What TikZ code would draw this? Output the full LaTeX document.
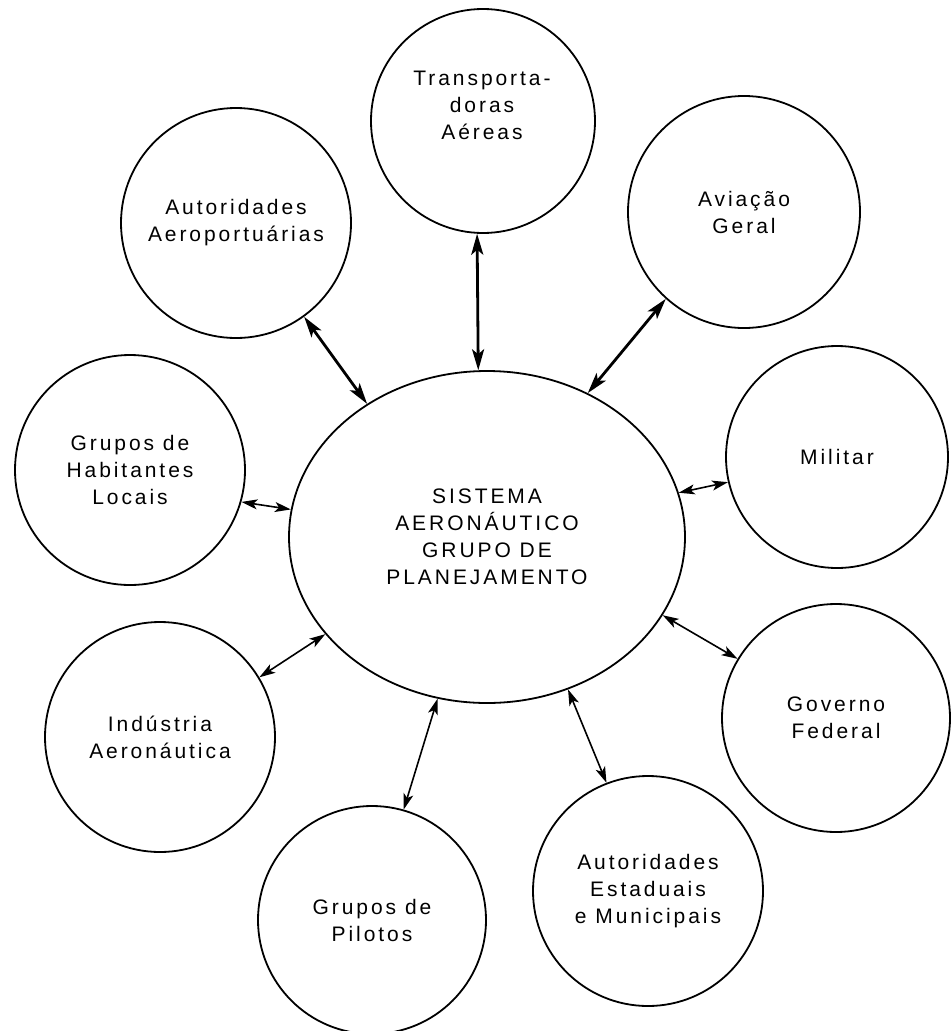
\documentclass[tikz,border=0pt]{standalone}
\usepackage{fontspec}
\setmainfont{Liberation Sans}
\newfontfamily\labfont[LetterSpace=14]{Liberation Sans}
\usetikzlibrary{arrows.meta,shapes.geometric}
\begin{document}
\begin{tikzpicture}[x=1pt,y=-1pt,
  bubble/.style={circle,draw,line width=1.8pt,inner sep=0pt,align=center,
    font=\labfont\fontsize{21}{27}\selectfont},
  hub/.style={ellipse,draw,line width=1.8pt,inner sep=0pt,align=center,
    minimum width=396pt,minimum height=332pt,
    font=\labfont\fontsize{21}{27}\selectfont},
  txt/.style={inner sep=0pt,align=center,font=\labfont\fontsize{21}{27}\selectfont},
  thicklink/.style={line width=2.8pt,{Stealth[length=21pt,width=12pt,inset=5pt]}-{Stealth[length=21pt,width=12pt,inset=5pt]}},
  thinlink/.style={line width=1.6pt,{Stealth[length=16pt,width=10pt,inset=4pt]}-{Stealth[length=16pt,width=10pt,inset=4pt]}}]
\useasboundingbox (0,0) rectangle (952,1031);

\node[hub] (c) at (487,537) {SISTEMA\\AERONÁUTICO\\GRUPO DE\\PLANEJAMENTO};

\node[bubble,minimum size=224pt] (trans) at (483,121) {};
\node[txt] (transT) at (482,105) {Transporta-\\doras\\Aéreas};
\node[bubble,minimum size=230pt] (aero) at (236,223) {Autoridades\\Aeroportuárias};
\node[bubble,minimum size=232pt] (aviac) at (744,212) {Aviação\\Geral};
\node[bubble,minimum size=222pt] (mil) at (837,457) {Militar};
\node[bubble,minimum size=230pt] (hab) at (130,470) {Grupos de\\Habitantes\\Locais};
\node[bubble,minimum size=230pt] (ind) at (160,737) {Indústria\\Aeronáutica};
\node[bubble,minimum size=228pt] (gov) at (836,718) {Governo\\Federal};
\node[bubble,minimum size=228pt] (pil) at (372,920) {Grupos de\\Pilotos};
\node[bubble,minimum size=230pt] (est) at (648,891) {Autoridades\\Estaduais\\e Municipais};

\draw[thicklink] (trans.267) -- (c.93.4);
\draw[thicklink] (aero.306.4) -- (c.132.7);
\draw[thicklink] (aviac.228.5) -- (c.55.5);
\draw[thinlink] (hab.344.5) -- (c.172);
\draw[thinlink] (mil.193) -- (c.13.2);
\draw[thinlink] (gov.149.9) -- (c.-24.7);
\draw[thinlink] (est.111.3) -- (c.-62.4);
\draw[thinlink] (pil.74.4) -- (c.253.1);
\draw[thinlink] (ind.31.8) -- (c.211);
\end{tikzpicture}
\end{document}
